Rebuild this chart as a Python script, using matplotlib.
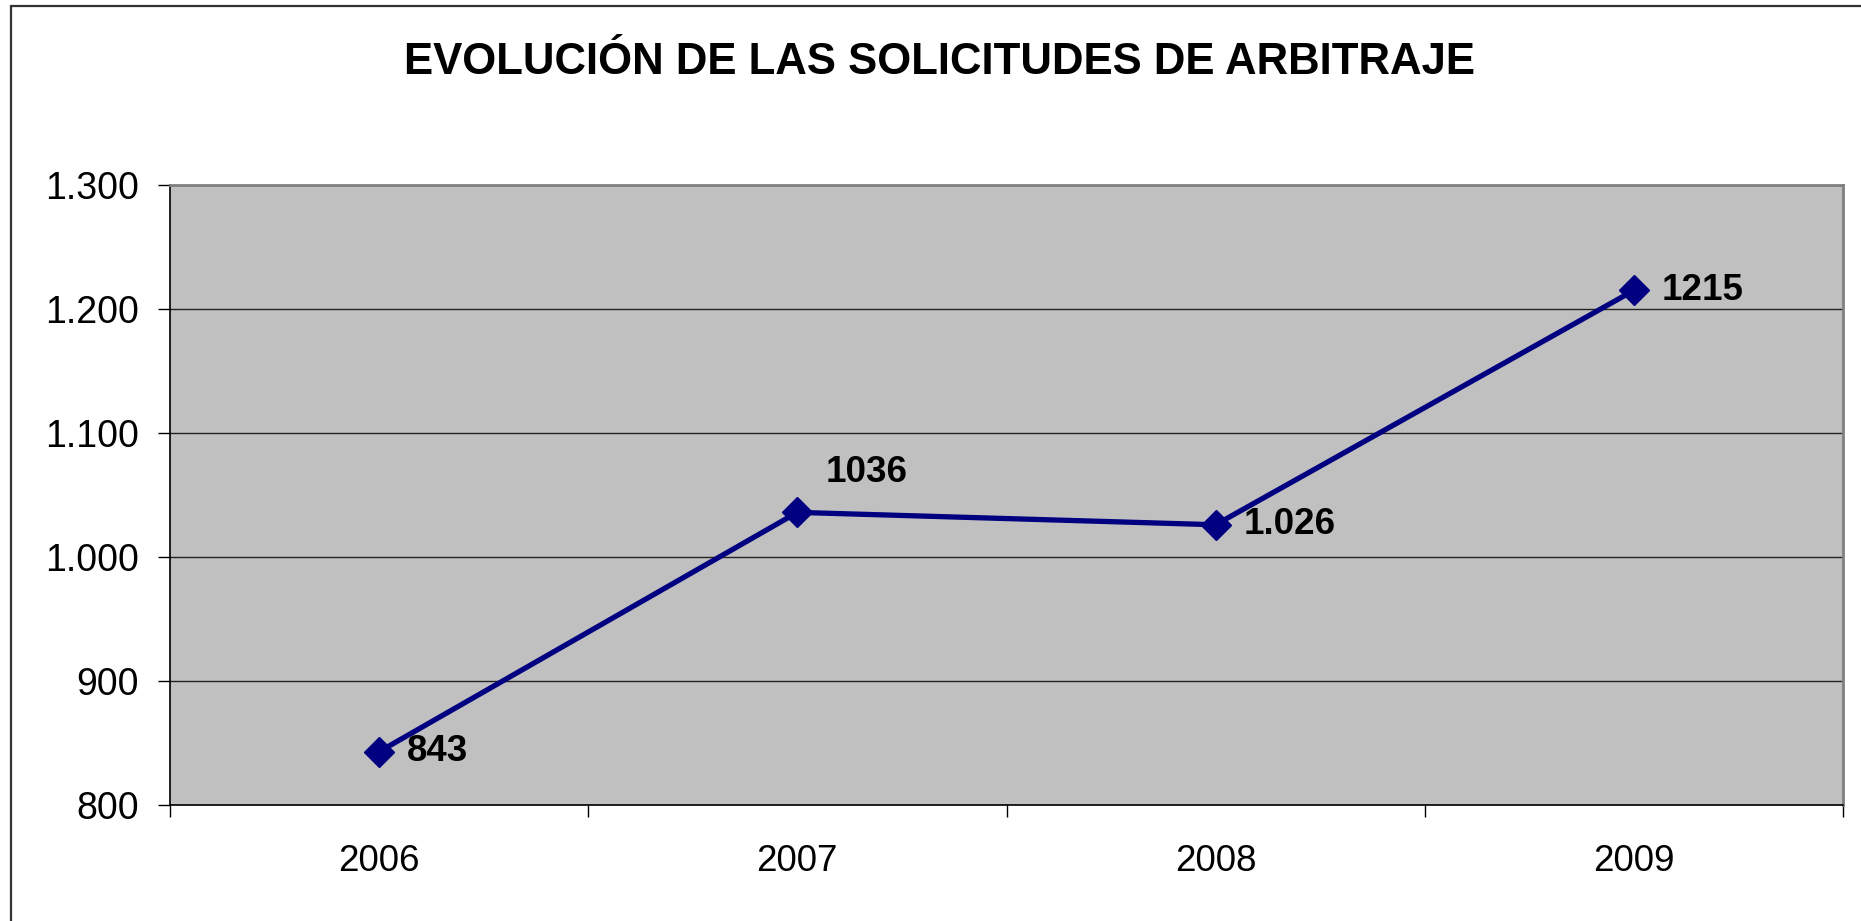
import matplotlib
matplotlib.use("Agg")

import matplotlib.pyplot as plt
from matplotlib.patches import Rectangle
from matplotlib.ticker import FixedLocator, FuncFormatter

# data
years = ["2006", "2007", "2008", "2009"]
requests = [843, 1036, 1026, 1215]
point_labels = ["843", "1036", "1.026", "1215"]
yticks = [800, 900, 1000, 1100, 1200, 1300]

W, H, DPI = 1861, 921, 100
plt.rcParams["font.family"] = ["Liberation Sans", "DejaVu Sans"]

fig = plt.figure(figsize=(W / DPI, H / DPI), dpi=DPI)
fig.patch.set_facecolor("white")

# outer chart frame (cut off at right and bottom like the source)
fig.patches.append(Rectangle((11 / W, -0.05), 1.2, 1 - 6 / H + 0.05,
                             transform=fig.transFigure, fill=False,
                             edgecolor="#333333", linewidth=1.6))

ax = fig.add_axes([170 / W, 1 - 805 / H, (1843 - 170) / W, (805 - 185) / H])
ax.set_facecolor("#C0C0C0")

x = list(range(len(years)))
ax.plot(x, requests, color="#000080", linewidth=3.8, marker="D",
        markersize=15, markeredgewidth=1, markeredgecolor="#000080",
        zorder=3, clip_on=False)

# data labels: right of the marker, except 2007 which sits above-right
for i, (v, lab) in enumerate(zip(requests, point_labels)):
    dy = 29 if i == 1 else 0
    ax.annotate(lab, (i, v), xytext=(20, dy), textcoords="offset points",
                ha="left", va="center", fontsize=26.5, fontweight="bold")

ax.set_xlim(-0.5, len(years) - 0.5)
ax.set_ylim(800, 1300)

ax.yaxis.set_major_locator(FixedLocator(yticks))
ax.yaxis.set_major_formatter(FuncFormatter(lambda v, p: f"{int(v):,}".replace(",", ".")))
ax.grid(axis="y", color="#222222", linewidth=1.0)
ax.set_axisbelow(True)

# category ticks sit between categories, labels at centres
ax.xaxis.set_major_locator(FixedLocator([i - 0.5 for i in range(len(years) + 1)]))
ax.xaxis.set_major_formatter(FuncFormatter(lambda v, p: ""))
ax.xaxis.set_minor_locator(FixedLocator(x))
ax.set_xticklabels(years, minor=True)

ax.tick_params(axis="y", direction="out", length=8.6, width=1, pad=14,
               labelsize=27, colors="black")
ax.tick_params(axis="x", which="major", direction="out", length=8.6, width=1)
ax.tick_params(axis="x", which="minor", length=0, pad=28, labelsize=26.5)

for side in ("left", "bottom"):
    ax.spines[side].set_color("black")
    ax.spines[side].set_linewidth(1.2)
for side in ("top", "right"):
    ax.spines[side].set_color("#808080")
    ax.spines[side].set_linewidth(2)

fig.text(939 / W, 1 - 63 / H, "EVOLUCIÓN DE LAS SOLICITUDES DE ARBITRAJE",
         ha="center", va="center", fontsize=31.5, fontweight="bold")

fig.savefig("out.png", dpi=DPI)
